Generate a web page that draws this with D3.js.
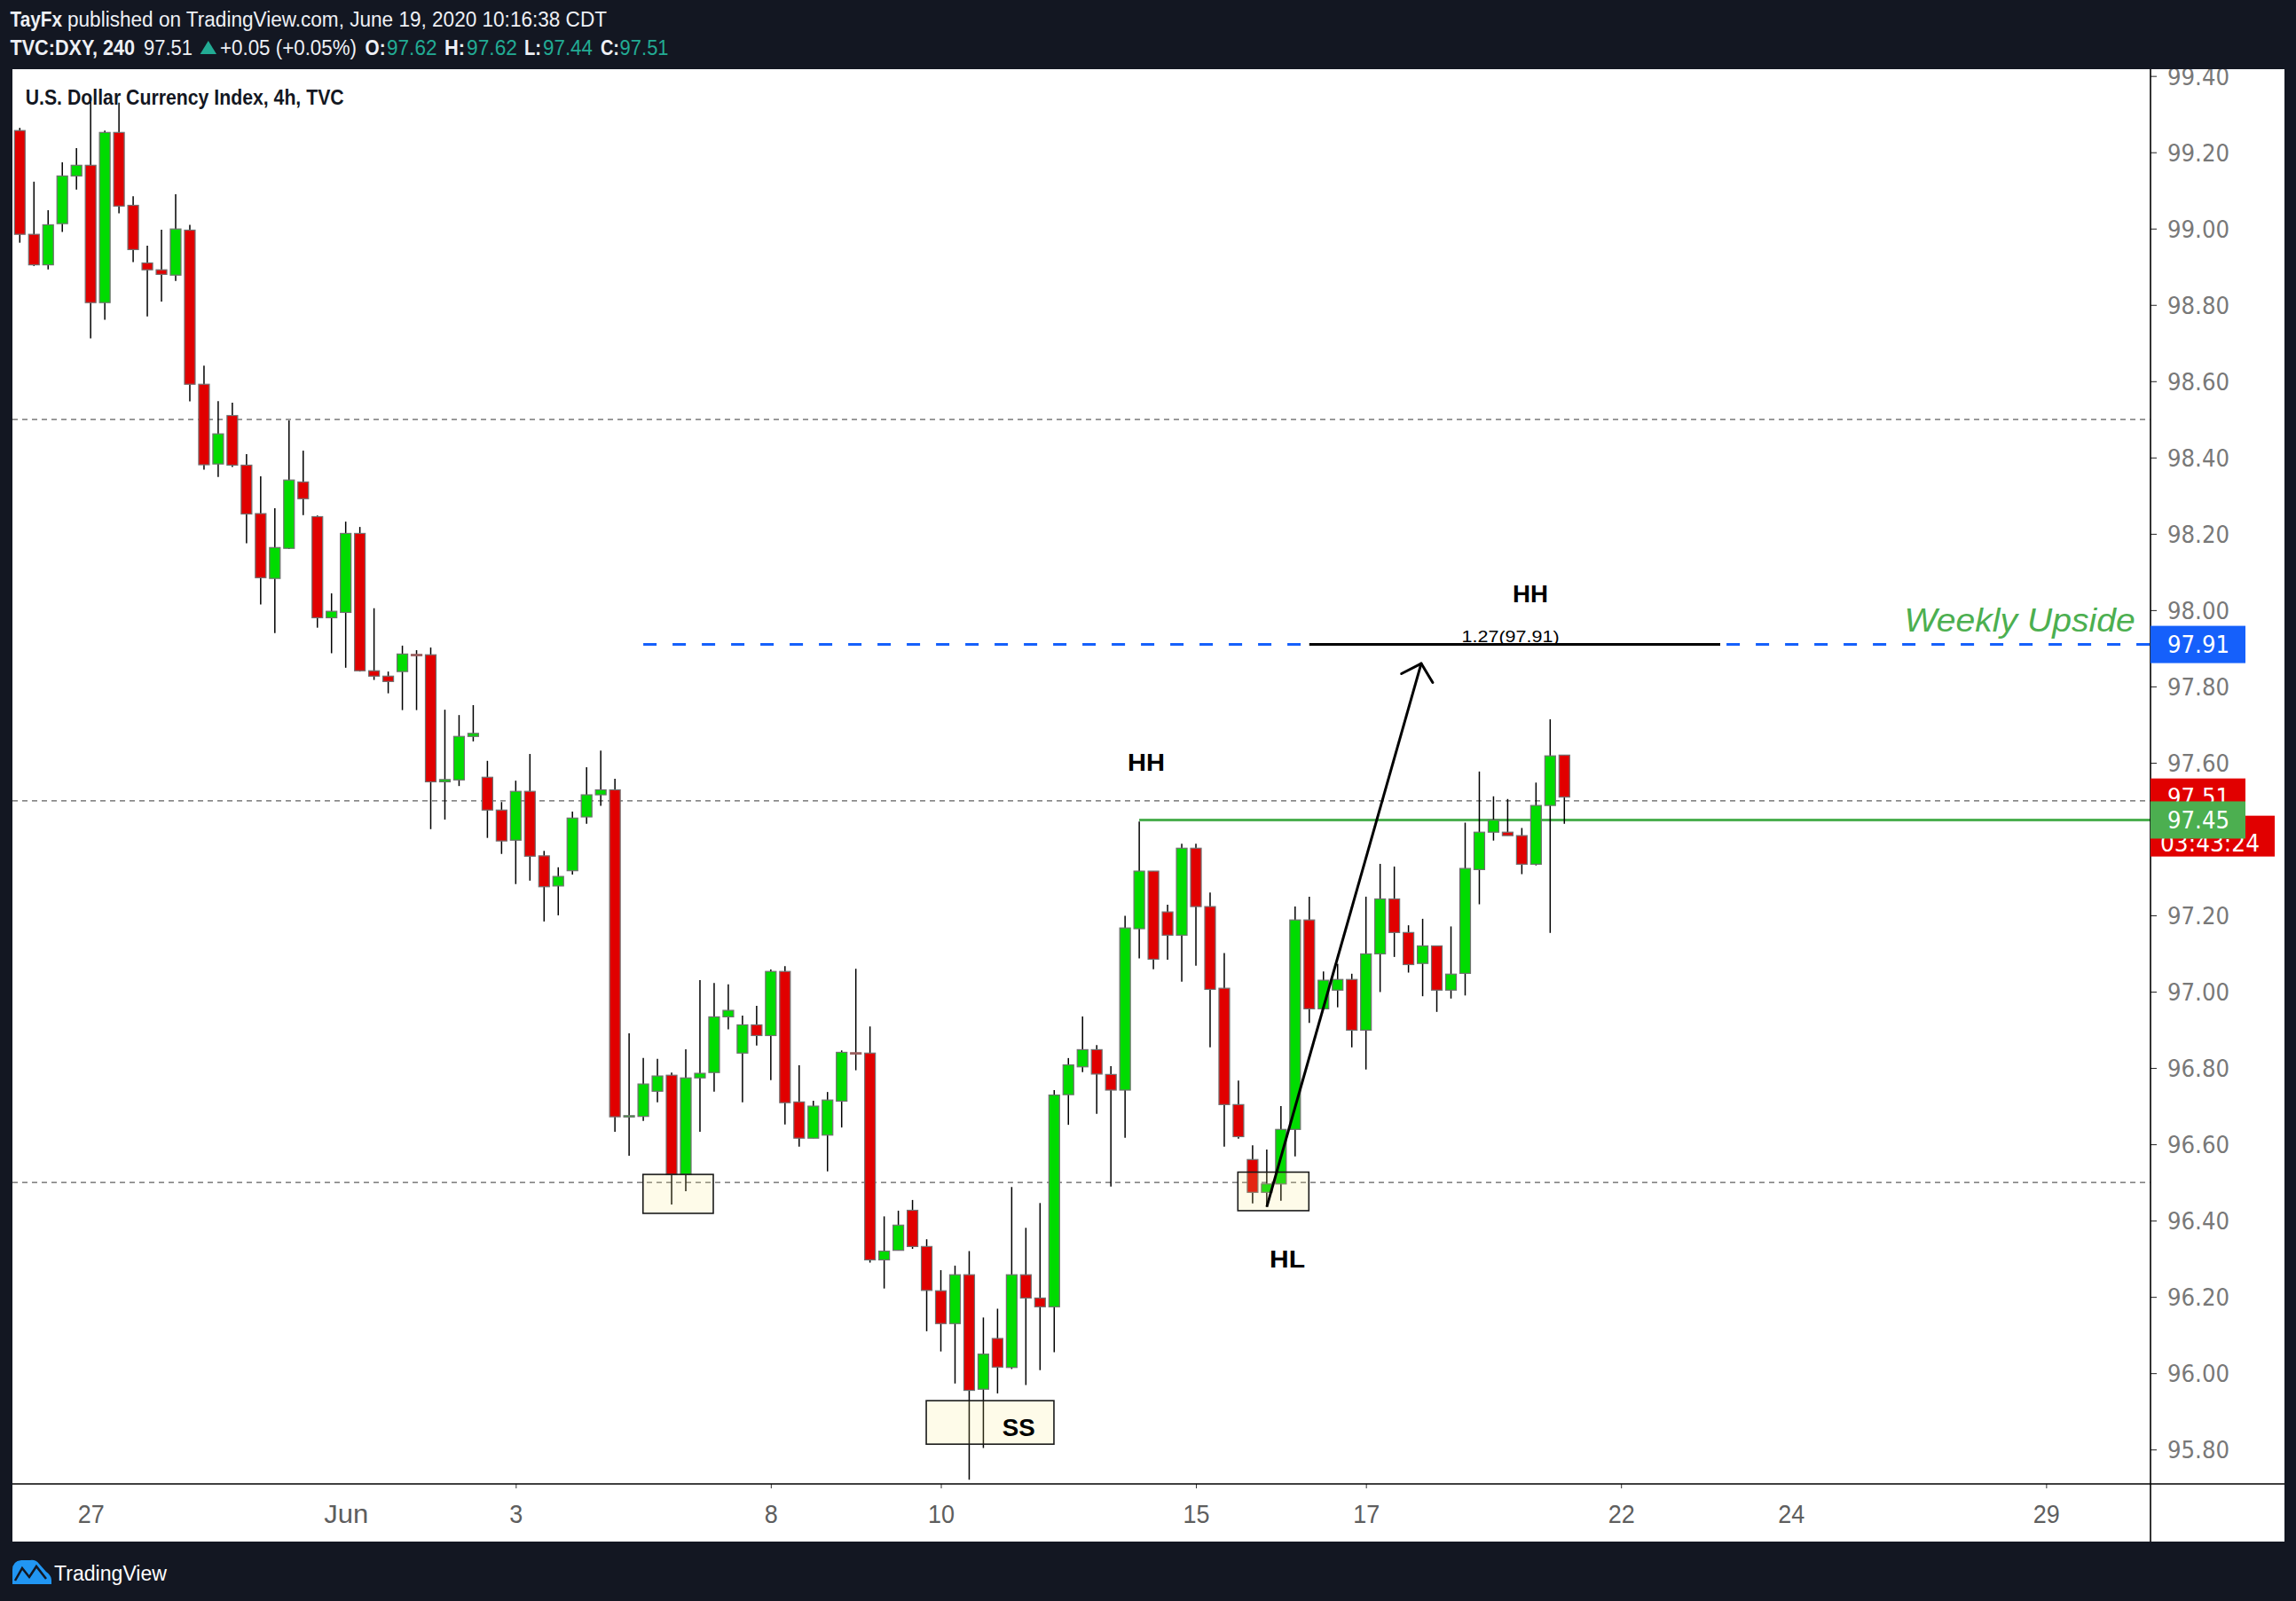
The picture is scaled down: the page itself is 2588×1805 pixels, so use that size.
<!DOCTYPE html>
<html><head><meta charset="utf-8">
<script src="https://cdnjs.cloudflare.com/ajax/libs/d3/7.8.5/d3.min.js"></script>
<style>html,body{margin:0;padding:0;background:#131722;}svg{display:block;}</style>
</head><body>
<svg id="c" width="2588" height="1805"></svg>
<script>
// ---------------- DATA (4h bars, DXY, 27 May - 19 Jun 2020) ----------------
const opens = [99.257,98.985,98.905,99.013,99.138,99.166,98.806,99.252,99.061,98.910,
98.892,98.878,98.996,98.592,98.383,98.510,98.380,98.253,98.083,98.162,
98.336,98.245,97.980,97.994,98.201,97.841,97.827,97.839,97.884,97.883,
97.550,97.555,97.669,97.562,97.476,97.397,97.525,97.356,97.277,97.317,
97.458,97.516,97.529,96.672,96.673,96.739,96.781,96.521,96.774,96.788,
96.934,96.839,96.913,96.885,97.053,96.711,96.616,96.624,96.713,96.840,
96.839,96.297,96.322,96.427,96.332,96.216,96.130,96.258,95.958,96.091,
96.015,96.258,96.197,96.174,96.730,96.803,96.848,96.783,96.742,97.165,
97.316,97.209,97.148,97.376,97.223,97.009,96.704,96.560,96.474,96.496,
96.639,97.188,96.955,97.004,97.032,96.899,97.099,97.243,97.155,97.074,
97.120,97.004,97.048,97.320,97.418,97.418,97.409,97.334,97.488,97.62];
const highs = [99.264,99.123,99.048,99.174,99.211,99.332,99.257,99.330,99.085,98.955,
98.997,99.090,99.010,98.641,98.548,98.544,98.409,98.351,98.267,98.497,
98.418,98.248,98.044,98.232,98.218,98.005,97.839,97.907,97.895,97.902,
97.739,97.725,97.751,97.605,97.497,97.553,97.623,97.369,97.326,97.472,
97.588,97.632,97.558,96.891,96.826,96.824,96.788,96.849,97.030,97.023,
97.019,96.937,96.963,97.058,97.067,96.807,96.714,96.737,96.846,97.060,
96.909,96.411,96.426,96.454,96.351,96.270,96.282,96.320,96.146,96.169,
96.488,96.381,96.446,96.742,96.826,96.935,96.860,96.805,97.199,97.446,
97.316,97.228,97.388,97.388,97.260,97.101,96.767,96.597,96.586,96.700,
97.223,97.249,97.053,97.073,97.047,97.249,97.335,97.328,97.174,97.191,
97.120,97.171,97.443,97.577,97.512,97.505,97.429,97.548,97.714,97.62];
const lows = [98.963,98.902,98.893,98.991,99.102,98.712,98.761,99.040,98.912,98.770,
98.809,98.863,98.547,98.368,98.349,98.375,98.175,98.015,97.940,98.160,
98.249,97.954,97.887,97.849,97.839,97.817,97.782,97.738,97.738,97.426,
97.451,97.539,97.656,97.403,97.361,97.282,97.291,97.184,97.200,97.307,
97.440,97.487,96.633,96.570,96.661,96.710,96.442,96.477,96.633,96.738,
96.901,96.710,96.859,96.768,96.652,96.594,96.616,96.529,96.644,96.794,
96.290,96.222,96.322,96.326,96.110,96.057,95.973,95.721,95.804,95.947,
96.011,95.969,96.008,96.055,96.651,96.789,96.680,96.489,96.617,97.087,
97.059,97.084,97.026,97.068,96.854,96.594,96.615,96.445,96.436,96.452,
96.568,96.918,96.955,96.959,96.854,96.796,96.999,97.091,97.050,96.988,
96.947,96.982,96.990,97.229,97.396,97.409,97.308,97.331,97.154,97.44];
const closes = [98.985,98.905,99.010,99.138,99.166,98.806,99.252,99.059,98.945,98.892,
98.880,98.999,98.592,98.381,98.462,98.380,98.252,98.085,98.164,98.341,
98.292,97.980,97.997,98.201,97.841,97.827,97.813,97.885,97.884,97.550,
97.556,97.669,97.677,97.476,97.395,97.525,97.355,97.275,97.302,97.455,
97.516,97.529,96.672,96.675,96.758,96.779,96.521,96.774,96.786,96.934,
96.951,96.913,96.885,97.053,96.709,96.616,96.700,96.716,96.841,96.840,
96.297,96.320,96.388,96.332,96.217,96.130,96.258,95.955,96.050,96.016,
96.258,96.197,96.174,96.729,96.808,96.848,96.784,96.742,97.167,97.316,
97.085,97.148,97.376,97.223,97.006,96.704,96.620,96.474,96.496,96.639,
97.188,96.955,97.030,97.032,96.899,97.099,97.243,97.155,97.071,97.120,
97.004,97.046,97.323,97.418,97.450,97.409,97.334,97.488,97.618,97.51];

// time axis: bar index where each labelled day starts
const dayTickIdx = [5, 23, 35, 53, 65, 83, 95, 113, 125, 143];
const dayTickLabels = ["27", "Jun", "3", "8", "10", "15", "17", "22", "24", "29"];
const dayTickMarked = ["3", "8", "10", "15", "17", "22", "29"];
// price axis
const priceTicks = [95.8,96.0,96.2,96.4,96.6,96.8,97.0,97.2,97.4,97.6,97.8,98.0,98.2,98.4,98.6,98.8,99.0,99.2,99.4];
const dashedLevels = [98.5, 97.5, 96.5];
const weeklyUpside = 97.91;
const hhLevel = 97.45;
const lastPrice = 97.51;

// ---------------- SETUP ----------------
const W = 2588, H = 1805;
const svg = d3.select('#c');
const plot = {left: 14, right: 2424, top: 78, bottom: 1673};
const panel = {left: 14, right: 2575, top: 78, bottom: 1738};

const x = d3.scaleLinear().domain([0, 109]).range([22.3, 1763.3]);
const y = d3.scaleLinear().domain([95.8, 99.2]).range([1634.2, 171.7]);

svg.append('rect').attr('width', W).attr('height', H).attr('fill', '#131722');
svg.append('rect').attr('x', panel.left).attr('y', panel.top)
  .attr('width', panel.right - panel.left).attr('height', panel.bottom - panel.top).attr('fill', '#ffffff');

const defs = svg.append('defs');
defs.append('clipPath').attr('id', 'plotClip').append('rect')
  .attr('x', plot.left).attr('y', plot.top).attr('width', plot.right - plot.left).attr('height', plot.bottom - plot.top);
defs.append('clipPath').attr('id', 'axisClip').append('rect')
  .attr('x', plot.right).attr('y', plot.top).attr('width', panel.right - plot.right).attr('height', plot.bottom - plot.top);

const narrow = "'Liberation Sans Narrow','Liberation Sans',Arial,sans-serif";
const wide = "'DejaVu Sans',Verdana,sans-serif";

// ---------------- HEADER ----------------
const hdr = svg.append('g');
function htext(t, x0, yb, len, opts = {}) {
  return hdr.append('text').attr('x', x0).attr('y', yb).text(t)
    .attr('font-family', narrow).attr('font-size', opts.size || 23)
    .attr('font-weight', opts.bold ? 'bold' : 'normal')
    .attr('fill', opts.color || '#eef0f5')
    .attr('textLength', len).attr('lengthAdjust', 'spacingAndGlyphs');
}
const teal = '#22ab94';
htext('TayFx', 11.5, 30, 58.5, {bold: true});
htext('published on TradingView.com, June 19, 2020 10:16:38 CDT', 76, 30, 608);
htext('TVC:DXY, 240', 11.5, 62, 140.5, {bold: true});
htext('97.51', 162, 62, 55);
hdr.append('polygon').attr('points', '225.6,61 244,61 234.8,46').attr('fill', teal);
htext('+0.05 (+0.05%)', 248, 62, 154);
htext('O:', 411.6, 62, 23, {bold: true}); htext('97.62', 436, 62, 56.5, {color: teal});
htext('H:', 501, 62, 23, {bold: true}); htext('97.62', 526, 62, 57, {color: teal});
htext('L:', 591, 62, 19, {bold: true}); htext('97.44', 612, 62, 56, {color: teal});
htext('C:', 677, 62, 21, {bold: true}); htext('97.51', 698.6, 62, 55, {color: teal});

// ---------------- PLOT ----------------
const g = svg.append('g').attr('clip-path', 'url(#plotClip)');

// dashed horizontal levels
g.selectAll('line.lvl').data(dashedLevels).join('line').attr('class', 'lvl')
  .attr('x1', plot.left).attr('x2', plot.right)
  .attr('y1', d => y(d)).attr('y2', d => y(d))
  .attr('stroke', '#5f5f5f').attr('stroke-width', 1.2).attr('stroke-dasharray', '6,5');

// blue dashed "weekly upside" line
g.append('line').attr('x1', x(44)).attr('x2', plot.right)
  .attr('y1', y(weeklyUpside)).attr('y2', y(weeklyUpside))
  .attr('stroke', '#1560fb').attr('stroke-width', 3).attr('stroke-dasharray', '15,18');

// green HH level line
g.append('line').attr('x1', x(79)).attr('x2', plot.right)
  .attr('y1', y(hhLevel)).attr('y2', y(hhLevel))
  .attr('stroke', '#4caf50').attr('stroke-width', 3);

// candles
const bars = d3.range(opens.length).map(i => ({i, o: opens[i], h: highs[i], l: lows[i], c: closes[i]}));
const bw = 12;
g.selectAll('line.wick').data(bars).join('line').attr('class', 'wick')
  .attr('x1', d => x(d.i)).attr('x2', d => x(d.i))
  .attr('y1', d => y(d.h)).attr('y2', d => y(d.l))
  .attr('stroke', '#000').attr('stroke-width', 1.5);
g.selectAll('rect.body').data(bars).join('rect').attr('class', 'body')
  .attr('x', d => x(d.i) - bw / 2).attr('width', bw)
  .attr('y', d => y(Math.max(d.o, d.c)))
  .attr('height', d => Math.max(1.5, Math.abs(y(d.o) - y(d.c))))
  .attr('fill', d => d.c > d.o ? '#00dc00' : (d.c < d.o ? '#e10000' : '#9b5f5f'))
  .attr('stroke', d => d.c === d.o ? '#9b5f5f' : '#707070').attr('stroke-width', 1.2);

// highlight boxes
const boxes = [
  {x0: 43.98, x1: 48.94, p0: 96.521, p1: 96.419},
  {x0: 85.96, x1: 90.97, p0: 96.527, p1: 96.426},
  {x0: 63.97, x1: 72.98, p0: 95.928, p1: 95.814}
];
g.selectAll('rect.box').data(boxes).join('rect').attr('class', 'box')
  .attr('x', d => x(d.x0)).attr('width', d => x(d.x1) - x(d.x0))
  .attr('y', d => y(d.p0)).attr('height', d => y(d.p1) - y(d.p0))
  .attr('fill', 'rgba(250,232,120,0.16)').attr('stroke', '#1a1a1a').attr('stroke-width', 1.6);

// black fib target line
g.append('line').attr('x1', x(91)).attr('x2', x(120))
  .attr('y1', y(weeklyUpside)).attr('y2', y(weeklyUpside))
  .attr('stroke', '#000').attr('stroke-width', 3);

// arrow
const ax0 = x(88), ay0 = y(96.436), ax1 = x(98.9), ay1 = y(97.86);
g.append('line').attr('x1', ax0).attr('y1', ay0).attr('x2', ax1).attr('y2', ay1)
  .attr('stroke', '#000').attr('stroke-width', 3);
{
  const ang = Math.atan2(ay0 - ay1, ax0 - ax1);
  [47, -47].forEach(a => {
    const t = ang + a * Math.PI / 180;
    g.append('line').attr('x1', ax1).attr('y1', ay1)
      .attr('x2', ax1 + 25 * Math.cos(t)).attr('y2', ay1 + 25 * Math.sin(t))
      .attr('stroke', '#000').attr('stroke-width', 3).attr('stroke-linecap', 'round');
  });
}

// annotation texts
const notes = [
  {t: 'HH', i: 106.6, p: 98.02, len: 40},
  {t: 'HH', i: 79.5, p: 97.579, len: 42},
  {t: 'HL', i: 89.45, p: 96.277, len: 40},
  {t: 'SS', i: 70.5, p: 95.835, len: 37}
];
g.selectAll('text.note').data(notes).join('text').attr('class', 'note')
  .attr('x', d => x(d.i)).attr('y', d => y(d.p)).text(d => d.t)
  .attr('text-anchor', 'middle').attr('font-family', "'Liberation Sans',Arial,sans-serif")
  .attr('font-weight', 'bold').attr('font-size', 28).attr('fill', '#000')
  .attr('textLength', d => d.len).attr('lengthAdjust', 'spacingAndGlyphs');

g.append('text').attr('x', x(105.2)).attr('y', 724).text('1.27(97.91)')
  .attr('text-anchor', 'middle').attr('font-family', narrow).attr('font-size', 19).attr('fill', '#000')
  .attr('textLength', 110).attr('lengthAdjust', 'spacingAndGlyphs');

g.append('text').attr('x', x(133)).attr('y', 711.5).text('Weekly Upside')
  .attr('font-family', "'Liberation Sans Narrow','Liberation Sans',sans-serif").attr('font-style', 'italic')
  .attr('font-size', 36).attr('fill', '#4caf50')
  .attr('textLength', 260).attr('lengthAdjust', 'spacingAndGlyphs');

// title legend
svg.append('text').attr('x', 28.7).attr('y', 118).text('U.S. Dollar Currency Index, 4h, TVC')
  .attr('font-family', narrow).attr('font-weight', 'bold').attr('font-size', 23).attr('fill', '#131722')
  .attr('textLength', 359).attr('lengthAdjust', 'spacingAndGlyphs');

// ---------------- AXES ----------------
// price axis (outer group carries the clip in page coordinates)
const yAxisOuter = svg.append('g').attr('clip-path', 'url(#axisClip)');
const yAxisG = yAxisOuter.append('g').attr('transform', `translate(${plot.right},0)`);
yAxisG.call(d3.axisRight(y).tickValues(priceTicks).tickSize(7).tickPadding(12).tickFormat(d3.format('.2f')));
yAxisG.select('.domain').remove();
yAxisG.selectAll('.tick line').attr('stroke', '#222').attr('stroke-width', 1);
yAxisG.selectAll('.tick text').attr('font-family', wide).attr('font-size', 27).attr('fill', '#787878')
  .attr('textLength', 70).attr('lengthAdjust', 'spacingAndGlyphs').attr('dy', '0.36em');

// time axis
const xAxisG = svg.append('g').attr('transform', `translate(0,${plot.bottom})`);
xAxisG.call(d3.axisBottom(x).tickValues(dayTickIdx).tickSize(5).tickFormat((d, i) => dayTickLabels[i]));
xAxisG.select('.domain').remove();
xAxisG.selectAll('.tick line').attr('stroke', '#333')
  .attr('opacity', (d, i) => dayTickMarked.includes(dayTickLabels[i]) ? 1 : 0);
xAxisG.selectAll('.tick text').attr('y', 44).attr('dy', 0)
  .attr('font-family', narrow).attr('font-size', 29).attr('fill', '#5e5e5e')
  .attr('textLength', (d, i) => dayTickLabels[i] === 'Jun' ? 50 : 15 * dayTickLabels[i].length)
  .attr('lengthAdjust', 'spacingAndGlyphs');

// axis frame lines
svg.append('line').attr('x1', plot.right).attr('x2', plot.right).attr('y1', panel.top).attr('y2', panel.bottom)
  .attr('stroke', '#000').attr('stroke-width', 1.6);
svg.append('line').attr('x1', panel.left).attr('x2', panel.right).attr('y1', plot.bottom).attr('y2', plot.bottom)
  .attr('stroke', '#000').attr('stroke-width', 1.6);

// ---------------- PRICE LABELS ON AXIS ----------------
const lab = svg.append('g');
function axisLabel(p, fill, txt, w) {
  const cy = y(p);
  lab.append('rect').attr('x', plot.right).attr('y', cy - 21).attr('width', w).attr('height', 42).attr('fill', fill);
  lab.append('text').attr('x', 2443).attr('y', cy).attr('dy', '0.36em').text(txt)
    .attr('font-family', wide).attr('font-size', 27).attr('fill', '#fff')
    .attr('textLength', 70).attr('lengthAdjust', 'spacingAndGlyphs');
}
axisLabel(weeklyUpside, '#1560fb', d3.format('.2f')(weeklyUpside), 107);
// last price + countdown (partly hidden behind the 97.45 label, as in the original)
{
  const cy = y(lastPrice);
  lab.append('rect').attr('x', plot.right).attr('y', cy + 21).attr('width', 140).attr('height', 46).attr('fill', '#e10000');
  lab.append('text').attr('x', 2435).attr('y', cy + 21 + 40).text('03:43:24')
    .attr('font-family', wide).attr('font-size', 27).attr('fill', '#fff')
    .attr('textLength', 112).attr('lengthAdjust', 'spacingAndGlyphs');
}
axisLabel(lastPrice, '#e10000', d3.format('.2f')(lastPrice), 107);
axisLabel(hhLevel, '#4caf50', d3.format('.2f')(hhLevel), 107);

// ---------------- FOOTER ----------------
const ft = svg.append('g');
ft.append('path').attr('d', 'M14,1786 L14,1770 Q14,1760 24,1759 L34,1759 Q40,1758 44,1763 L52,1772 Q58,1776 58,1782 L58,1786 Z')
  .attr('fill', '#2196f3');
ft.append('polyline').attr('points', '17,1782 25,1768 33,1778 41,1766 52,1780')
  .attr('fill', 'none').attr('stroke', '#131722').attr('stroke-width', 2.5);
ft.append('text').attr('x', 61).attr('y', 1782).text('TradingView')
  .attr('font-family', narrow).attr('font-size', 23).attr('fill', '#ffffff')
  .attr('textLength', 127).attr('lengthAdjust', 'spacingAndGlyphs');
</script>
</body></html>
